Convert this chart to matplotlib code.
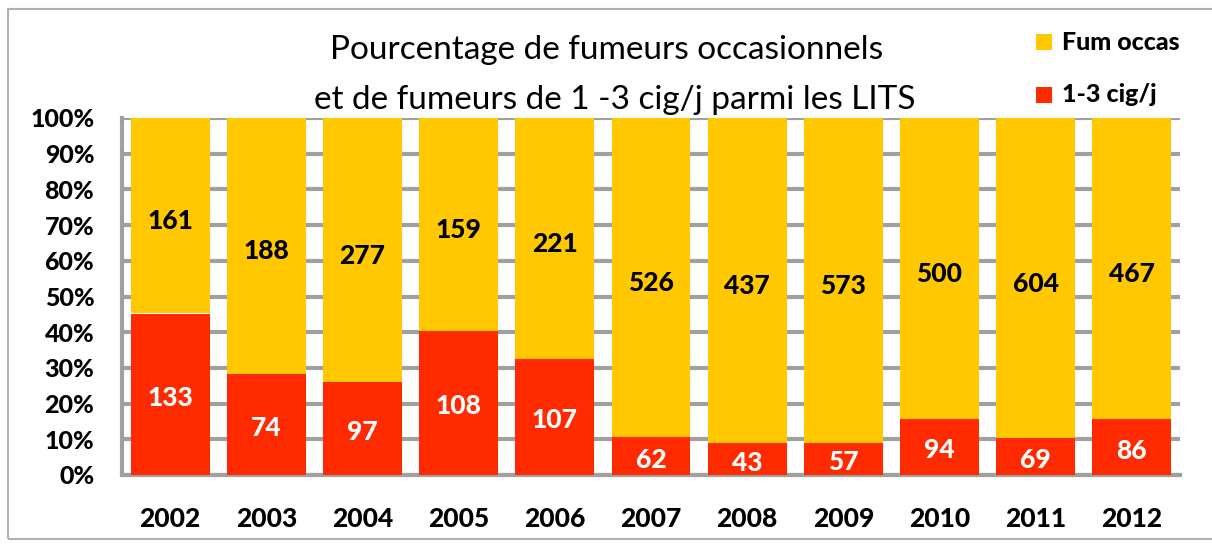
import numpy as np
import matplotlib.pyplot as plt
from matplotlib.patches import Rectangle

years = ['2002', '2003', '2004', '2005', '2006', '2007', '2008', '2009', '2010', '2011', '2012']
cig13 = [133, 74, 97, 108, 107, 62, 43, 57, 94, 69, 86]       # 1-3 cig/j
occas = [161, 188, 277, 159, 221, 526, 437, 573, 500, 604, 467]  # Fum occas

yellow = '#FFC800'
red = '#FF2A00'
grid_col = '#A0A0A0'

cig13 = np.array(cig13)
occas = np.array(occas)
total = cig13 + occas
p_red = cig13 / total
p_yel = occas / total

plt.rcParams['font.family'] = ['Lato', 'DejaVu Sans']
W = 'black'

fig = plt.figure(figsize=(12.12, 5.47), dpi=100)
ax = fig.add_axes([122/1212, 1 - 475/547, (1180-122)/1212, (475-118)/547])

x = np.arange(len(years))
ax.bar(x, p_red, width=0.82, color=red, zorder=3)
ax.bar(x, p_yel, bottom=p_red, width=0.82, color=yellow, zorder=3)

for i in range(len(years)):
    ax.text(x[i], p_red[i] / 2 - 0.01, str(cig13[i]), ha='center', va='center',
            color='white', fontsize=19, fontweight=W, zorder=4)
    ax.text(x[i], p_red[i] + p_yel[i] / 2 - 0.015, str(occas[i]), ha='center', va='center',
            color='black', fontsize=19, fontweight=W, zorder=4)

ax.set_xlim(-0.5, len(years) - 0.5)
ax.set_ylim(0, 1)
ax.set_yticks(np.arange(0, 1.01, 0.1))
ax.set_yticklabels([f'{int(round(v*100))}%' for v in np.arange(0, 1.01, 0.1)])
ax.set_xticks(x)
ax.set_xticklabels(years)
ax.tick_params(axis='y', length=0, pad=20, labelsize=18)
ax.tick_params(axis='x', length=0, pad=23, labelsize=19)
for lab in ax.get_yticklabels() + ax.get_xticklabels():
    lab.set_fontweight(W)
ax.yaxis.grid(True, color=grid_col, linewidth=3, zorder=0)
ax.set_axisbelow(True)
for s in ['top', 'right']:
    ax.spines[s].set_visible(False)
ax.spines['left'].set_color(grid_col)
ax.spines['left'].set_linewidth(3)
ax.spines['bottom'].set_color(grid_col)
ax.spines['bottom'].set_linewidth(3)

fig.text(607/1212, 1 - 50/547, 'Pourcentage de fumeurs occasionnels', ha='center', va='center', fontsize=24)
fig.text(615/1212, 1 - 100/547, 'et de fumeurs de 1 -3 cig/j parmi les LITS', ha='center', va='center', fontsize=24)

# legend
fig.patches.append(Rectangle((1036/1212, 1 - 50/547), 16/1212, 16/547, transform=fig.transFigure,
                             facecolor=yellow, edgecolor='none'))
fig.text(1062/1212, 1 - 42/547, 'Fum occas', ha='left', va='center', fontsize=18, fontweight=W)
fig.patches.append(Rectangle((1036/1212, 1 - 103/547), 16/1212, 16/547, transform=fig.transFigure,
                             facecolor=red, edgecolor='none'))
fig.text(1062/1212, 1 - 95/547, '1-3 cig/j', ha='left', va='center', fontsize=18, fontweight=W)

# outer frame
fig.patches.append(Rectangle((8/1212, 8/547), 1.1, 1 - 17/547, transform=fig.transFigure,
                             facecolor='none', edgecolor='#B0B0B0', linewidth=1.5))

fig.savefig('out.png', dpi=100)
